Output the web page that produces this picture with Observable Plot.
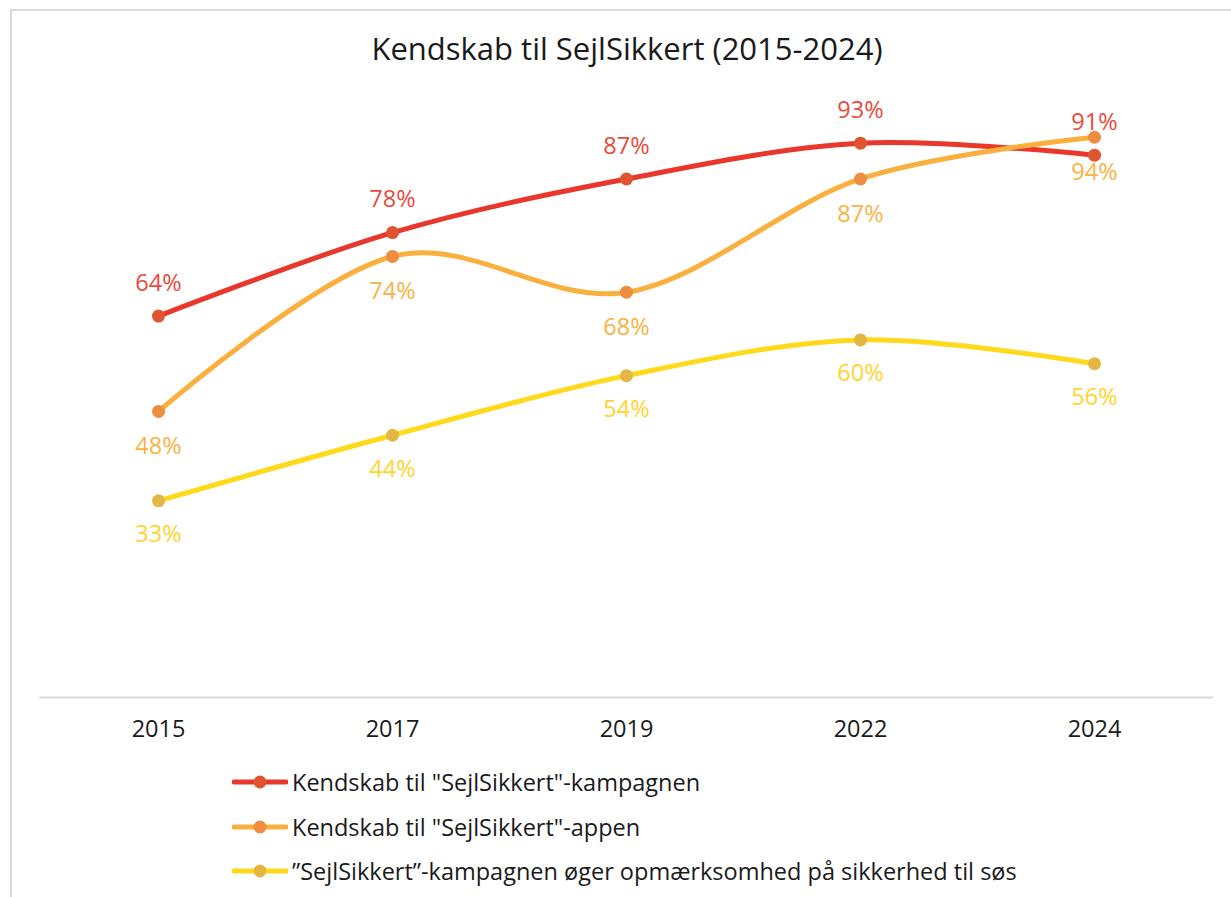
<!DOCTYPE html>
<html>
<head>
<meta charset="utf-8">
<script src="https://cdn.jsdelivr.net/npm/d3@7"></script>
<script src="https://cdn.jsdelivr.net/npm/@observablehq/plot@0.6"></script>
<style>
  body { margin: 0; background: #fff; font-family: "Open Sans", sans-serif; }
  #frame { position: absolute; left: 10px; top: 9px; width: 1240px; height: 920px; border: 2px solid #d9d9d9; box-sizing: border-box; }
  #title { position: absolute; left: 0; width: 1254px; top: 27px; text-align: center; font-size: 31px; color: #1a1a1a; line-height: 42px; }
  #chart { position: absolute; left: 0; top: 81px; }
  #legend { position: absolute; left: 232px; top: 760px; font-size: 23.5px; color: #1a1a1a; }
  .item { display: flex; align-items: center; height: 44.5px; }
  .item svg { margin-right: 4px; }
</style>
</head>
<body>
<div id="frame"></div>
<div id="title">Kendskab til SejlSikkert (2015-2024)</div>
<div id="chart"></div>
<div id="legend"></div>
<script>
const years = ["2015", "2017", "2019", "2022", "2024"];
const seriesNames = [
  'Kendskab til "SejlSikkert"-kampagnen',
  'Kendskab til "SejlSikkert"-appen',
  '”SejlSikkert”-kampagnen øger opmærksomhed på sikkerhed til søs'
];
const kampagnen = [64, 78, 87, 93, 91];
const appen = [48, 74, 68, 87, 94];
const opmaerksomhed = [33, 44, 54, 60, 56];
const lineColors = ["#E8372B", "#FAB03F", "#FFD91A"];
const dotColors = ["#E0552F", "#EE8C3F", "#E3B743"];
const textColors = ["#E84A3C", "#F8B343", "#FFD42E"];
const labelDy = [-33, 35, 34];

const allValues = [kampagnen, appen, opmaerksomhed];
const data = [];
allValues.forEach((vals, s) => vals.forEach((v, i) => data.push({year: years[i], value: v, series: seriesNames[s], s})));

const marks = [Plot.ruleY([0], {stroke: "#d9d9d9", strokeWidth: 2})];
allValues.forEach((vals, s) => {
  const d = data.filter(r => r.s === s);
  marks.push(Plot.line(d, {x: "year", y: "value", stroke: lineColors[s], strokeWidth: 5, curve: "cardinal"}));
});
allValues.forEach((vals, s) => {
  const d = data.filter(r => r.s === s);
  marks.push(Plot.dot(d, {x: "year", y: "value", r: 6.5, fill: dotColors[s], stroke: null}));
  marks.push(Plot.text(d, {x: "year", y: "value", text: r => r.value + "%", dy: labelDy[s], fill: textColors[s], fontSize: 23.5}));
});

const chart = Plot.plot({
  width: 1231,
  height: 666,
  marginTop: 20,
  marginBottom: 50,
  marginLeft: 39,
  marginRight: 18,
  style: {fontFamily: "'Open Sans', sans-serif", fontSize: "23.5px", color: "#1a1a1a", background: "transparent"},
  x: {type: "point", domain: years, padding: 0.5, label: null, tickSize: 0, tickPadding: 23},
  y: {domain: [0, 100], axis: null},
  marks
});
document.getElementById("chart").appendChild(chart);

const legend = document.getElementById("legend");
seriesNames.forEach((name, s) => {
  const div = document.createElement("div");
  div.className = "item";
  div.innerHTML = `<svg width="56" height="16"><line x1="2" y1="8" x2="54" y2="8" stroke="${lineColors[s]}" stroke-width="5" stroke-linecap="round"/><circle cx="28" cy="8" r="6.5" fill="${dotColors[s]}"/></svg><span>${name}</span>`;
  legend.appendChild(div);
});
</script>
</body>
</html>
